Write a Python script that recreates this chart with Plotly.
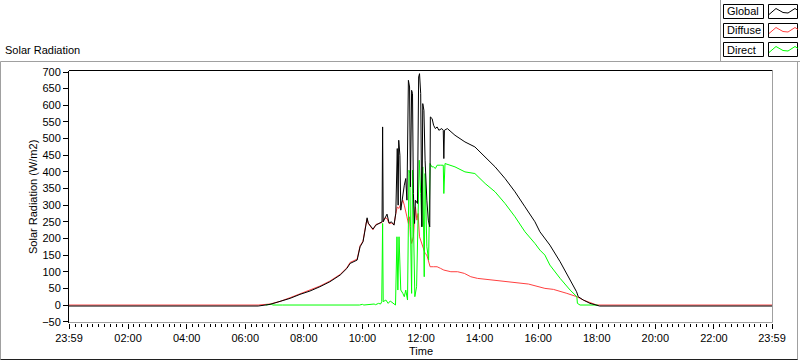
import plotly.graph_objects as go

# ---------------- data (hours of day, W/m2) ----------------
global_time = [-0.0167, 6.44, 6.85, 7.19, 7.53, 7.87, 8.21, 8.55, 8.89, 9.24, 9.47, 9.58, 9.68, 9.82,
               9.92, 10.02, 10.12, 10.16, 10.20, 10.36, 10.46, 10.60, 10.67, 10.69, 10.71, 10.77,
               10.84, 10.91, 10.99, 11.08, 11.14, 11.19, 11.22, 11.24, 11.28, 11.31, 11.38, 11.43,
               11.48, 11.52, 11.57, 11.61, 11.64, 11.68, 11.71, 11.74, 11.78, 11.81, 11.88, 11.92,
               11.95, 11.99, 12.03, 12.06, 12.10, 12.14, 12.20, 12.25, 12.30, 12.32, 12.38, 12.43,
               12.49, 12.55, 12.61, 12.71, 12.76, 12.78, 12.80, 12.90, 13.16, 13.50, 13.84, 14.19,
               14.53, 14.87, 15.21, 15.55, 15.89, 16.06, 16.23, 16.40, 16.75, 17.09, 17.31, 17.37,
               17.54, 17.77, 18.05, 18.10, 23.983]
global_vals = [-3, -3, 2, 10, 20, 32, 42, 55, 70, 90, 110, 125, 130, 135,
               175, 190, 240, 262, 246, 228, 240, 246, 250, 535, 250, 261,
               273, 246, 250, 240, 276, 470, 300, 495, 450, 285, 335, 360,
               380, 315, 675, 655, 355, 645, 635, 335, 245, 315, 305, 685,
               695, 635, 235, 605, 585, 435, 315, 255, 235, 565, 560, 540,
               530, 535, 525, 530, 525, 440, 525, 530, 510, 490, 475, 445,
               415, 380, 340, 295, 250, 220, 200, 180, 130, 75, 40, 25,
               15, 5, 0, -3, -3]

diffuse_time = [-0.0167, 6.44, 6.85, 7.19, 7.53, 7.87, 8.21, 8.55, 8.89, 9.24, 9.47, 9.58, 9.68, 9.82,
                9.92, 10.02, 10.12, 10.16, 10.20, 10.36, 10.46, 10.60, 10.67, 10.69, 10.77, 10.84,
                10.91, 10.99, 11.08, 11.14, 11.19, 11.24, 11.31, 11.38, 11.43, 11.48, 11.52, 11.57,
                11.61, 11.64, 11.68, 11.74, 11.78, 11.81, 11.86, 11.90, 11.95, 12.03, 12.09, 12.14,
                12.20, 12.25, 12.31, 12.43, 12.55, 12.67, 12.78, 13.02, 13.25, 13.48, 13.70, 13.93,
                14.16, 14.38, 14.53, 15.10, 15.67, 16.23, 16.52, 16.98, 17.32, 17.54, 17.77, 18.00,
                23.983]
diffuse_vals = [0, 0, 3, 11, 22, 33, 44, 57, 72, 92, 112, 128, 132, 138,
                178, 192, 243, 258, 245, 226, 242, 245, 248, 250, 262, 260,
                245, 246, 242, 275, 295, 290, 305, 315, 300, 285, 265, 245,
                265, 205, 185, 205, 265, 295, 255, 275, 205, 185, 165, 155,
                150, 135, 115, 115, 115, 110, 105, 100, 100, 95, 85, 80,
                78, 75, 75, 70, 63, 50, 47, 35, 25, 15, 7, 0,
                0]

direct_time = [6.70, 6.90, 6.93, 7.25, 7.28, 9.90, 10.00, 10.05, 10.40, 10.45, 10.55, 10.62, 10.66,
               10.69, 10.71, 10.80, 10.88, 10.95, 11.13, 11.18, 11.21, 11.25, 11.28, 11.31, 11.38,
               11.43, 11.48, 11.54, 11.59, 11.62, 11.64, 11.68, 11.71, 11.76, 11.79, 11.85, 11.91,
               11.94, 11.99, 12.03, 12.06, 12.11, 12.14, 12.18, 12.20, 12.26, 12.31, 12.37, 12.43,
               12.49, 12.55, 12.66, 12.76, 12.78, 12.80, 12.82, 13.16, 13.50, 13.84, 14.19, 14.53,
               14.87, 15.21, 15.55, 15.89, 16.06, 16.23, 16.40, 16.75, 17.09, 17.32, 17.34, 17.43,
               18.03]
direct_vals = [0, 3, 0, 2, 0, 0, 2, 0, 3, 1, 5, 3, 10,
               245, 10, 15, 5, 12, 0, 205, 45, 205, 85, 45, 35,
               25, 45, 15, 405, 395, 235, 35, 405, 185, 25, 55, 405,
               435, 335, 235, 415, 85, 395, 265, 175, 135, 425, 415, 415,
               410, 420, 420, 420, 335, 420, 425, 415, 400, 395, 365, 340,
               305, 265, 220, 185, 165, 150, 120, 80, 45, 25, 5, 0,
               0]

series_names = ["Global", "Diffuse", "Direct"]
x_tick_vals = [-0.0167, 2, 4, 6, 8, 10, 12, 14, 16, 18, 20, 22, 23.983]
x_tick_text = ["23:59", "02:00", "04:00", "06:00", "08:00", "10:00", "12:00",
               "14:00", "16:00", "18:00", "20:00", "22:00", "23:59"]
y_tick_vals = [-50, 0, 50, 100, 150, 200, 250, 300, 350, 400, 450, 500, 550, 600, 650, 700]

# ---------------- style ----------------
FONT = "Liberation Sans"
COLORS = ["#000000", "#ff4040", "#00ff00"]
W, H = 800, 361
L, R, T, B = 69, 28, 71, 38
PW, PH = W - L - R, H - T - B


def X(px):
    return (px - L) / PW


def Y(py):
    return (H - B - py) / PH


fig = go.Figure()
traces = list(zip(series_names, [global_time, diffuse_time, direct_time],
                  [global_vals, diffuse_vals, direct_vals], COLORS))
# draw order: Diffuse, Direct, then Global on top
for idx in (1, 2, 0):
    name, xs, ys, c = traces[idx]
    fig.add_trace(go.Scatter(x=xs, y=ys, mode="lines", name=name,
                             line=dict(color=c, width=1), showlegend=False, hoverinfo="skip"))

shapes = []
gray = "#a0a0a0"


def line(x0, y0, x1, y1, color, w=1):
    shapes.append(dict(type="line", xref="paper", yref="paper", x0=X(x0), y0=Y(y0),
                       x1=X(x1), y1=Y(y1), line=dict(color=color, width=w), layer="above"))


def rect(x0, y0, x1, y1, color="#000000"):
    shapes.append(dict(type="rect", xref="paper", yref="paper", x0=X(x0), y0=Y(y0),
                       x1=X(x1), y1=Y(y1), line=dict(color=color, width=1),
                       fillcolor="rgba(0,0,0,0)", layer="above"))


# outer chart frame
line(0.5, 61.5, 800, 61.5, gray)
line(0.5, 61.5, 0.5, 359.5, gray)
line(0.5, 359.5, 798, 359.5, "#202020")
line(797.5, 61.5, 797.5, 359.5, gray)
# legend panel frame
line(720.5, 0, 720.5, 61.5, gray)
# plot area frame
line(69, 70.5, 772.5, 70.5, "#000000")
line(772.5, 70.5, 772.5, 322.5, gray)
line(69, 322.5, 772.5, 322.5, gray)

annotations = []
rows = [(4.5, 18.5), (23.5, 37.5), (42.5, 56.5)]
zig = [(0, 10), (7, 4), (14, 8), (19, 8.5), (26, 4), (29, 6)]
for (y0, y1), name, c in zip(rows, series_names, COLORS):
    rect(723.5, y0, 763.5, y1)
    rect(768.5, y0, 797.5, y1)
    path = "M " + " L ".join(f"{X(769 + dx)},{Y(y0 + dy)}" for dx, dy in zig)
    shapes.append(dict(type="path", xref="paper", yref="paper", path=path,
                       line=dict(color=c, width=1), layer="above"))
    annotations.append(dict(text=name, xref="paper", yref="paper", x=X(725), y=Y((y0 + y1) / 2),
                            xanchor="left", yanchor="middle", showarrow=False,
                            font=dict(family=FONT, size=11, color="#000")))

annotations.append(dict(text="Solar Radiation", xref="paper", yref="paper", x=X(3), y=Y(50),
                        xanchor="left", yanchor="middle", showarrow=False,
                        font=dict(family=FONT, size=11, color="#000")))
annotations.append(dict(text="Solar Radiation (W/m2)", xref="paper", yref="paper", x=X(33),
                        y=Y(197), xanchor="center", yanchor="middle", textangle=-90,
                        showarrow=False, font=dict(family=FONT, size=11, color="#000")))
annotations.append(dict(text="Time", xref="paper", yref="paper", x=X(421), y=Y(351),
                        xanchor="center", yanchor="middle", showarrow=False,
                        font=dict(family=FONT, size=11, color="#000")))

fig.update_layout(
    width=W, height=H, autosize=False,
    margin=dict(l=L, r=R, t=T, b=B, pad=0),
    paper_bgcolor="white", plot_bgcolor="white",
    font=dict(family=FONT, size=11, color="#000"),
    shapes=shapes, annotations=annotations, showlegend=False,
    xaxis=dict(range=[-0.0167, 23.983], tickmode="array", tickvals=x_tick_vals,
               ticktext=x_tick_text, ticks="outside", ticklen=5, tickcolor="#000",
               showgrid=False, zeroline=False, showline=False,
               minor=dict(tickmode="linear", tick0=0, dtick=0.2, ticks="outside",
                          ticklen=3, tickcolor="#000", showgrid=False),
               tickfont=dict(family=FONT, size=11, color="#000"), fixedrange=True),
    yaxis=dict(range=[-54, 703], tickmode="array", tickvals=y_tick_vals,
               ticks="outside", ticklen=5, tickcolor="#000", showgrid=False,
               zeroline=False, showline=True, linecolor="#000", linewidth=1,
               tickfont=dict(family=FONT, size=11, color="#000"), fixedrange=True),
)

fig.write_html("out.html", config={"displayModeBar": False, "staticPlot": True},
               post_script="document.body.style.margin='0';document.body.style.overflow='hidden';")
